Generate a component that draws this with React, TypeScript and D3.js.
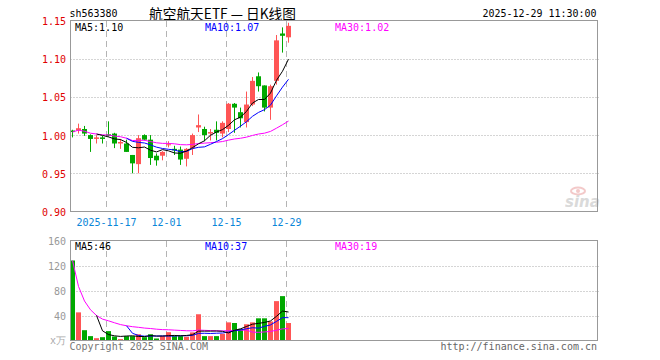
import React from "react";
import * as d3 from "d3";

const dates = [
  "2025-11-07", "2025-11-10", "2025-11-11", "2025-11-12", "2025-11-13", "2025-11-14",
  "2025-11-17", "2025-11-18", "2025-11-19", "2025-11-20", "2025-11-21",
  "2025-11-24", "2025-11-25", "2025-11-26", "2025-11-27", "2025-11-28",
  "2025-12-01", "2025-12-02", "2025-12-03", "2025-12-04", "2025-12-05",
  "2025-12-08", "2025-12-09", "2025-12-10", "2025-12-11", "2025-12-12",
  "2025-12-15", "2025-12-16", "2025-12-17", "2025-12-18", "2025-12-19",
  "2025-12-22", "2025-12-23", "2025-12-24", "2025-12-25", "2025-12-26",
  "2025-12-29",
];
const opens = [
  1.006, 1.006, 1.008, 1.000, 0.995, 0.997, 1.001, 1.002, 0.989, 0.989,
  0.974, 0.962, 1.000, 0.994, 0.973, 0.973, 0.987, 0.982, 0.981, 0.969,
  0.983, 1.010, 1.008, 1.002, 1.007, 1.002, 1.008, 1.041, 1.030, 1.017,
  1.040, 1.077, 1.065, 1.036, 1.071, 1.133, 1.128,
];
const closes = [
  1.004, 1.009, 1.002, 0.995, 0.997, 0.995, 0.999, 0.989, 0.991, 0.978,
  0.963, 0.996, 0.994, 0.970, 0.967, 0.978, 0.988, 0.980, 0.968, 0.982,
  1.000, 1.013, 1.000, 1.004, 1.003, 1.016, 1.041, 1.036, 1.022, 1.040,
  1.071, 1.064, 1.036, 1.064, 1.124, 1.130, 1.143,
];
const highs = [
  1.007, 1.015, 1.012, 1.001, 1.000, 0.999, 1.018, 1.003, 0.995, 0.994,
  0.974, 1.000, 1.001, 1.000, 0.976, 0.979, 0.992, 0.986, 0.985, 0.983,
  1.002, 1.027, 1.011, 1.008, 1.018, 1.018, 1.042, 1.042, 1.036, 1.057,
  1.076, 1.082, 1.065, 1.066, 1.131, 1.141, 1.147,
];
const lows = [
  0.997, 1.002, 0.999, 0.978, 0.989, 0.989, 0.998, 0.983, 0.982, 0.978,
  0.950, 0.950, 0.993, 0.961, 0.960, 0.967, 0.984, 0.974, 0.961, 0.959,
  0.974, 1.004, 0.992, 0.993, 0.993, 0.997, 1.004, 1.003, 1.010, 1.010,
  1.038, 1.057, 1.031, 1.020, 1.066, 1.108, 1.121,
];
const volumes = [
  128, 45, 16.5, 7, 3.7, 5.3, 15, 6.4, 2.2, 7,
  7, 10, 5.3, 10, 3.2, 7, 13.3, 7, 7, 6,
  13, 42, 7, 7, 7, 10.6, 29, 28, 18.6, 26,
  29, 35.5, 35.5, 30.5, 63, 71, 28,
];
const tickDates = ["2025-11-17", "2025-12-01", "2025-12-15", "2025-12-29"];
const tickLabels = ["2025-11-17", "12-01", "12-15", "12-29"];
const priceTicks = [1.15, 1.10, 1.05, 1.00, 0.95, 0.90];
const volTicks = [160, 120, 80, 40];

const RED = "#ff5555";
const GREEN = "#00a800";
const MONO = "'DejaVu Sans Mono', 'Liberation Mono', monospace";

function movingAvg(arr: number[], n: number, expanding = false) {
  return arr.map((_, i) => {
    if (i < n - 1 && !expanding) return null;
    const s = Math.max(0, i - n + 1);
    const sl = arr.slice(s, i + 1);
    return d3.mean(sl) as number;
  });
}

export default function App() {
  const L = 70.5, R = 597.5;
  const N = dates.length;
  const step = 6;
  const x = d3.scaleLinear().domain([0, 1]).range([70, 70 + step]);
  const cx = (i: number) => x(i) + 2.5;

  const yP = d3.scaleLinear().domain([0.9, 1.15]).range([211.5, 20.5]);
  const yV = d3.scaleLinear().domain([0, 160]).range([340.5, 240.5]);

  const ma5 = movingAvg(closes, 5);
  const ma10 = movingAvg(closes, 10);
  const ma30 = movingAvg(closes, 30, true);
  const vma5 = movingAvg(volumes, 5);
  const vma10 = movingAvg(volumes, 10);
  const vma30 = movingAvg(volumes, 30, true);

  const lineP = d3
    .line<number | null>()
    .defined((d) => d !== null)
    .x((_, i) => cx(i))
    .y((d) => yP(d as number));
  const lineV = d3
    .line<number | null>()
    .defined((d) => d !== null)
    .x((_, i) => cx(i))
    .y((d) => yV(d as number));

  const tickIdx = tickDates.map((d) => dates.indexOf(d));
  const last = N - 1;

  return (
    <svg
      width={660}
      height={360}
      style={{ position: "fixed", left: 0, top: 0, background: "#fff" }}
      fontFamily={MONO}
      fontSize={10}
    >
      <rect width={660} height={360} fill="#fff" />
      {/* header */}
      <text x={69.5} y={17} fill="#000" textLength={48} lengthAdjust="spacingAndGlyphs">sh563380</text>
      <text
        x={149}
        y={18.5}
        fill="#000"
        fontSize={14}
        fontFamily="'Noto Sans CJK SC', sans-serif"
        textLength={147}
        lengthAdjust="spacingAndGlyphs"
      >
        航空航天ETF — 日K线图
      </text>
      <text x={596.5} y={17} fill="#000" textAnchor="end" textLength={114} lengthAdjust="spacingAndGlyphs">
        2025-12-29 11:30:00
      </text>

      {/* price panel grid */}
      {priceTicks.slice(1, -1).map((t) => (
        <line key={t} x1={L} x2={599} y1={Math.round(yP(t)) + 0.5} y2={Math.round(yP(t)) + 0.5} stroke="#aaa" strokeDasharray="1,2" />
      ))}
      {tickIdx.map((i) => (
        <line key={"pv" + i} x1={x(i) + 0.5} x2={x(i) + 0.5} y1={21} y2={211} stroke="#b4b4b4" strokeDasharray="6,4" />
      ))}
      {priceTicks.map((t) => (
        <text key={"pl" + t} x={66} y={yP(t) + 4.5} fill="#e00000" textAnchor="end">
          {t.toFixed(2)}
        </text>
      ))}
      {tickIdx.map((i, k) => (
        <text key={"dl" + i} x={x(i) + 0.5} y={225.5} fill="#0a86d8" textAnchor="middle">
          {tickLabels[k]}
        </text>
      ))}

      {/* sina logo */}
      <g opacity={0.9}>
        <ellipse cx={578} cy={191} rx={7} ry={3.5} fill="none" stroke="#f2c4c4" strokeWidth={2} />
        <circle cx={578} cy={191} r={2} fill="#f2c4c4" />
        <text x={565} y={207} fill="#d6d6d6" fontSize={15} fontWeight="bold" fontStyle="italic" fontFamily="'DejaVu Sans', sans-serif">
          sina
        </text>
      </g>

      {/* candles */}
      {closes.map((c, i) => {
        const o = opens[i];
        const up = c >= o;
        const col = up ? RED : GREEN;
        const top = yP(Math.max(o, c));
        const bot = yP(Math.min(o, c));
        return (
          <g key={"c" + i}>
            <rect x={x(i) + 2} y={yP(highs[i])} width={1} height={Math.max(1, yP(lows[i]) - yP(highs[i]))} fill={col} />
            <rect x={x(i)} y={top} width={5} height={Math.max(1, bot - top)} fill={col} />
          </g>
        );
      })}
      <path d={lineP(ma30) || ""} fill="none" stroke="#ff00ff" strokeWidth={1} />
      <path d={lineP(ma10) || ""} fill="none" stroke="#0000ff" strokeWidth={1} />
      <path d={lineP(ma5) || ""} fill="none" stroke="#000" strokeWidth={1} />

      <rect x={L} y={20.5} width={R - L} height={191} fill="none" stroke="#999" />
      <text x={75} y={30.5} fill="#000">MA5:{(ma5[last] as number).toFixed(2)}</text>
      <text x={205} y={30.5} fill="#0000ff">MA10:{(ma10[last] as number).toFixed(2)}</text>
      <text x={335} y={30.5} fill="#ff00ff">MA30:{(ma30[last] as number).toFixed(2)}</text>

      {/* volume panel */}
      {volTicks.slice(1).map((t) => (
        <line key={"vg" + t} x1={L} x2={599} y1={Math.round(yV(t)) + 0.5} y2={Math.round(yV(t)) + 0.5} stroke="#aaa" strokeDasharray="1,2" />
      ))}
      {tickIdx.map((i) => (
        <line key={"vv" + i} x1={x(i) + 0.5} x2={x(i) + 0.5} y1={241} y2={340} stroke="#b4b4b4" strokeDasharray="6,4" />
      ))}
      {volTicks.map((t) => (
        <text key={"vl" + t} x={66} y={yV(t) + 4} fill="#999" textAnchor="end">
          {t}
        </text>
      ))}
      <text x={66} y={344} fill="#aaa" textAnchor="end">x万</text>
      {volumes.map((v, i) => {
        const up = closes[i] >= opens[i];
        return (
          <rect key={"v" + i} x={x(i)} y={yV(v)} width={5} height={yV(0) - yV(v)} fill={up ? RED : GREEN} />
        );
      })}
      <path d={lineV(vma30) || ""} fill="none" stroke="#ff00ff" strokeWidth={1} />
      <path d={lineV(vma10) || ""} fill="none" stroke="#0000ff" strokeWidth={1} />
      <path d={lineV(vma5) || ""} fill="none" stroke="#000" strokeWidth={1} />
      <rect x={L} y={240.5} width={R - L} height={100} fill="none" stroke="#999" />
      <text x={75} y={249.5} fill="#000">MA5:{Math.round(vma5[last] as number)}</text>
      <text x={205} y={249.5} fill="#0000ff">MA10:{Math.round(vma10[last] as number)}</text>
      <text x={335} y={249.5} fill="#ff00ff">MA30:{Math.round(vma30[last] as number)}</text>

      <text x={69.5} y={350} fill="#777">Copyright 2025 SINA.COM</text>
      <text x={597} y={350} fill="#666" textAnchor="end">http://finance.sina.com.cn</text>
    </svg>
  );
}
